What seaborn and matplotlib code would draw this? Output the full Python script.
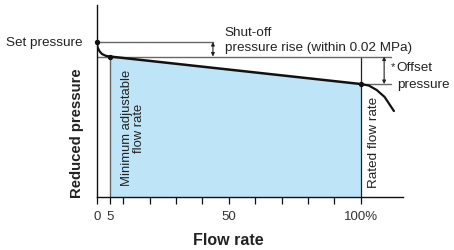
import numpy as np
import matplotlib.pyplot as plt
import seaborn as sns

# values (flow in %, pressure in arbitrary units)
set_pressure = 155.0
min_flow = 5
rated_flow = 100
start_flow = [0, 0.3, 1, 2, 3.5, 5]
start_press = [155, 150, 146, 143, 141.2, 140.5]
reg_flow = [5, 100]
reg_press = [140.5, 113]
drop_flow = [100, 103, 106, 109, 112.5]
drop_press = [113, 111.5, 107, 100, 86]
tick_pos = [0, 5, 10, 20, 30, 40, 50, 60, 70, 80, 90, 100]
tick_lbl = ["0", "5", "", "", "", "", "50", "", "", "", "", "100%"]

FILL = "#bee4f8"
REF = "#666666"

sns.set_theme(style="white")
plt.rcParams["font.family"] = ["Liberation Sans", "DejaVu Sans"]

fig = plt.figure(figsize=(4.54, 2.51), dpi=100)
ax = fig.add_axes([0.213, 0.211, 0.675, 0.765])
ax.set_xlim(0, 116)
ax.set_ylim(0, 192)

# operating region
ax.fill_between(reg_flow, reg_press, 0, color=FILL, lw=0, zorder=1)
ax.plot([min_flow, min_flow], [0, reg_press[0]], color=REF, lw=1, zorder=2)
ax.plot([rated_flow, rated_flow], [0, reg_press[0]], color="#222222", lw=0.9, zorder=2)

# reference lines
ax.plot([0, 44], [set_pressure, set_pressure], color=REF, lw=1, zorder=2)
ax.plot([0, 111.4], [reg_press[0], reg_press[0]], color=REF, lw=1, zorder=2)
ax.plot([rated_flow, 111.4], [reg_press[1], reg_press[1]], color=REF, lw=1, zorder=2)

# characteristic curve
sns.lineplot(x=start_flow, y=start_press, ax=ax, color="#111111", lw=1.6,
             sort=False, zorder=4)
sns.lineplot(x=reg_flow, y=reg_press, ax=ax, color="#111111", lw=1.8,
             sort=False, zorder=4)
sns.lineplot(x=drop_flow, y=drop_press, ax=ax, color="#111111", lw=1.6,
             sort=False, zorder=4)
ax.scatter([0, min_flow, rated_flow], [set_pressure, reg_press[0], reg_press[1]],
           s=8, color="#111111", zorder=5, clip_on=False)

# arrows
arr = dict(arrowstyle="<|-|>", color="#222222", lw=0.8, mutation_scale=5,
           shrinkA=0, shrinkB=0)
ax.annotate("", xy=(44, set_pressure), xytext=(44, reg_press[0]), arrowprops=arr)
ax.annotate("", xy=(108.8, reg_press[0]), xytext=(108.8, reg_press[1]), arrowprops=arr)

# axes styling
for s in ["top", "right"]:
    ax.spines[s].set_visible(False)
for s in ["left", "bottom"]:
    ax.spines[s].set_color("#111111")
    ax.spines[s].set_linewidth(1.0)
ax.set_yticks([])
ax.set_xticks(tick_pos)
ax.set_xticklabels(tick_lbl, fontsize=9.5, color="#333333")
ax.tick_params(axis="x", direction="out", length=5, width=0.9, color="#111111",
               pad=4, bottom=True)
ax.grid(False)

fs = 9.7
ax.text(-5.2, set_pressure, "Set pressure", ha="right", va="center",
        fontsize=fs, color="#222222", clip_on=False)
ax.text(48.4, 165, "Shut-off", ha="left", va="center", fontsize=fs, color="#222222")
ax.text(48.4, 150, "pressure rise (within 0.02 MPa)", ha="left", va="center",
        fontsize=fs, color="#222222", clip_on=False)
ax.text(111.2, 131, "*", ha="left", va="center", fontsize=8, color="#222222",
        clip_on=False)
ax.text(113.6, 130, "Offset", ha="left", va="center", fontsize=fs,
        color="#222222", clip_on=False)
ax.text(113.6, 113, "pressure", ha="left", va="center", fontsize=fs,
        color="#222222", clip_on=False)
ax.text(13.9, 70, "Minimum adjustable\nflow rate", rotation=90, ha="center",
        va="center", fontsize=9.4, color="#222222", multialignment="center",
        linespacing=1.0)
ax.text(104.9, 10, "Rated flow rate", rotation=90, ha="center", va="bottom",
        fontsize=fs, color="#222222")
ax.text(-7.5, 65, "Reduced pressure", rotation=90, ha="center", va="center",
        fontsize=10.7, fontweight="bold", color="#222222", clip_on=False)
ax.text(50, -42, "Flow rate", ha="center", va="center", fontsize=11.5,
        fontweight="bold", color="#222222", clip_on=False)

fig.savefig("out.png", dpi=100, facecolor="white")
